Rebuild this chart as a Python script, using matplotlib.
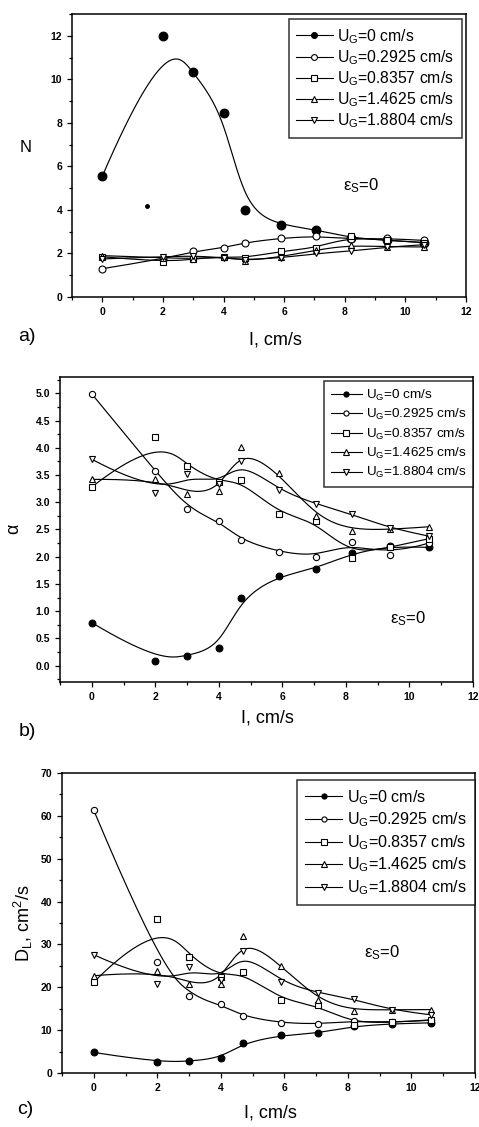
import numpy as np
import matplotlib
matplotlib.use('Agg')
import matplotlib.pyplot as plt
from matplotlib.ticker import MultipleLocator, FormatStrFormatter

plt.rcParams['font.family'] = ['Liberation Sans', 'DejaVu Sans']
plt.rcParams['mathtext.fontset'] = 'custom'
plt.rcParams['mathtext.rm'] = 'Liberation Sans'
plt.rcParams['mathtext.it'] = 'Liberation Sans'
plt.rcParams['mathtext.default'] = 'regular'

# superficial liquid velocity I, cm/s
I_vals = [0, 2, 3, 4, 4.7, 5.9, 7.05, 8.2, 9.4, 10.6]
labels = ['U$_G$=0 cm/s', 'U$_G$=0.2925 cm/s', 'U$_G$=0.8357 cm/s',
          'U$_G$=1.4625 cm/s', 'U$_G$=1.8804 cm/s']

# a) N
N_ug0 = [5.55, 12.0, 10.35, 8.45, 4.0, 3.3, 3.1, 2.7, 2.6, 2.5]
N_ug1 = [1.3, 1.75, 2.1, 2.25, 2.5, 2.7, 2.8, 2.65, 2.7, 2.6]
N_ug2 = [1.85, 1.6, 1.75, 1.85, 1.8, 2.1, 2.25, 2.8, 2.6, 2.5]
N_ug3 = [1.9, 1.8, 1.75, 1.85, 1.65, 1.85, 2.15, 2.4, 2.3, 2.3]
N_ug4 = [1.75, 1.85, 1.9, 1.8, 1.7, 1.8, 2.0, 2.1, 2.3, 2.4]
N_stray = (1.47, 4.2)

# b) alpha
a_ug0 = [0.79, 0.09, 0.18, 0.33, 1.25, 1.65, 1.78, 2.07, 2.2, 2.17]
a_ug1 = [4.99, 3.57, 2.87, 2.66, 2.30, 2.09, 2.0, 2.27, 2.04, 2.25]
a_ug2 = [3.28, 4.19, 3.66, 3.37, 3.40, 2.78, 2.66, 1.98, 2.18, 2.33]
a_ug3 = [3.42, 3.43, 3.16, 3.2, 4.01, 3.53, 2.74, 2.47, 2.5, 2.55]
a_ug4 = [3.79, 3.17, 3.51, 3.34, 3.75, 3.22, 2.97, 2.78, 2.52, 2.38]

# c) D_L
D_ug0 = [4.8, 2.5, 2.7, 3.5, 7.0, 8.8, 9.25, 11.0, 11.5, 11.7]
D_ug1 = [61.3, 26.0, 17.9, 16.0, 13.2, 11.7, 11.4, 12.2, 11.8, 12.3]
D_ug2 = [21.2, 36.0, 27.1, 22.5, 23.5, 17.0, 15.8, 11.3, 11.8, 12.4]
D_ug3 = [22.7, 23.9, 20.7, 20.8, 32.0, 25.0, 17.1, 14.4, 14.8, 14.8]
D_ug4 = [27.6, 20.8, 24.7, 21.7, 28.4, 21.2, 18.7, 17.3, 14.6, 13.6]

markers = ['o', 'o', 's', '^', 'v']
fills = ['black', 'white', 'white', 'white', 'white']


def bspline(xs, ys, n=400, k=3):
    # clamped uniform B-spline using the data points as control points
    P = np.column_stack([xs, ys]).astype(float)
    m = len(P)
    knots = np.concatenate([np.zeros(k), np.linspace(0, 1, m - k + 1), np.ones(k)])
    t = np.linspace(0, 1 - 1e-9, n)
    B = np.array([((knots[i] <= t) & (t < knots[i + 1])).astype(float)
                  for i in range(len(knots) - 1)])
    for d in range(1, k + 1):
        newB = np.zeros((len(knots) - 1 - d, n))
        for i in range(len(knots) - 1 - d):
            den1 = knots[i + d] - knots[i]
            den2 = knots[i + d + 1] - knots[i + 1]
            if den1 > 0:
                newB[i] += (t - knots[i]) / den1 * B[i]
            if den2 > 0:
                newB[i] += (knots[i + d + 1] - t) / den2 * B[i + 1]
        B = newB
    C = B.T @ P
    return C[:, 0], C[:, 1]


def draw_panel(ax, series, msize, fill_extra):
    handles = []
    for ys, mk, fc, lab in zip(series, markers, fills, labels):
        cx, cy = bspline(I_vals, ys)
        ax.plot(cx, cy, color='black', lw=0.85, zorder=2)
        ms = msize + fill_extra if fc == 'black' else msize
        ax.plot(I_vals, ys, linestyle='none', marker=mk, ms=ms, mfc=fc,
                mec='black', mew=0.8, zorder=3)
        h, = ax.plot([], [], color='black', lw=0.8, marker=mk, ms=msize - 0.8,
                     mfc=fc, mec='black', mew=0.8, label=lab)
        handles.append(h)
    ax.set_xlim(-1, 12)
    ax.xaxis.set_major_locator(MultipleLocator(2))
    ax.xaxis.set_minor_locator(MultipleLocator(1))
    ax.tick_params(which='both', direction='out', labelsize=7.5, width=0.9)
    ax.tick_params(which='major', length=3.5)
    ax.tick_params(which='minor', length=2)
    for lab in ax.get_xticklabels() + ax.get_yticklabels():
        lab.set_fontweight('bold')
    for sp in ax.spines.values():
        sp.set_linewidth(1.1)
    return handles


def add_legend(ax, h, right, top, fs, spacing):
    leg = ax.legend(handles=h, loc='upper right', bbox_to_anchor=(right / W, 1 - top / H),
                    bbox_transform=fig.transFigure, fontsize=fs, frameon=True, fancybox=False,
                    edgecolor='black', handlelength=2.3, handletextpad=0.3,
                    labelspacing=spacing, borderpad=0.5, borderaxespad=0)
    leg.get_frame().set_linewidth(1.1)
    return leg


fig = plt.figure(figsize=(4.79, 11.27), dpi=100)
W, H = 479.0, 1127.0


def fig_box(l, t, r, b):
    return [l / W, 1 - b / H, (r - l) / W, (b - t) / H]


# ---- a) ----
ax1 = fig.add_axes(fig_box(72, 14, 466, 297))
h = draw_panel(ax1, [N_ug0, N_ug1, N_ug2, N_ug3, N_ug4], 5.0, 1.3)
ax1.plot([N_stray[0]], [N_stray[1]], 'o', color='black', ms=2.5)
ax1.set_ylim(0, 13)
ax1.yaxis.set_major_locator(MultipleLocator(2))
ax1.yaxis.set_minor_locator(MultipleLocator(1))
for lab in ax1.get_yticklabels():
    lab.set_fontweight('bold')
ax1.set_ylabel('N', fontsize=12, rotation=0, labelpad=18)
ax1.text(7.95, 5.1, r'$\varepsilon$$_S$=0', fontsize=12, va='center')
add_legend(ax1, h, 462, 19, 11.3, 0.16)
fig.text(27 / W, 1 - 337 / H, 'a)', fontsize=14, ha='center', va='center')
fig.text(275 / W, 1 - 340 / H, 'I, cm/s', fontsize=13, ha='center', va='center')

# ---- b) ----
ax2 = fig.add_axes(fig_box(60, 377, 473, 682))
h = draw_panel(ax2, [a_ug0, a_ug1, a_ug2, a_ug3, a_ug4], 4.5, 0.4)
ax2.set_ylim(-0.3, 5.3)
ax2.yaxis.set_major_locator(MultipleLocator(0.5))
ax2.yaxis.set_minor_locator(MultipleLocator(0.25))
ax2.yaxis.set_major_formatter(FormatStrFormatter('%.1f'))
for lab in ax2.get_yticklabels():
    lab.set_fontweight('bold')
ax2.set_ylabel(r'$\alpha$', fontsize=13, rotation=90, labelpad=9)
ax2.text(9.4, 0.87, r'$\varepsilon_S$=0', fontsize=12, va='center')
add_legend(ax2, h, 473, 381, 9.7, 0.32)
fig.text(27 / W, 1 - 732 / H, 'b)', fontsize=14, ha='center', va='center')
fig.text(267 / W, 1 - 718 / H, 'I, cm/s', fontsize=13, ha='center', va='center')

# ---- c) ----
ax3 = fig.add_axes(fig_box(62, 773, 475, 1073))
h = draw_panel(ax3, [D_ug0, D_ug1, D_ug2, D_ug3, D_ug4], 4.5, 0.4)
ax3.set_ylim(0, 70)
ax3.yaxis.set_major_locator(MultipleLocator(10))
ax3.yaxis.set_minor_locator(MultipleLocator(5))
for lab in ax3.get_yticklabels():
    lab.set_fontweight('bold')
ax3.set_ylabel('D$_L$, cm$^2$/s', fontsize=13, labelpad=4)
ax3.text(8.5, 28, r'$\varepsilon_S$=0', fontsize=12, va='center')
add_legend(ax3, h, 475, 780, 11.6, 0.24)
fig.text(25 / W, 1 - 1110 / H, 'c)', fontsize=14, ha='center', va='center')
fig.text(270 / W, 1 - 1113 / H, 'I, cm/s', fontsize=13, ha='center', va='center')

fig.savefig('out.png', dpi=100)
